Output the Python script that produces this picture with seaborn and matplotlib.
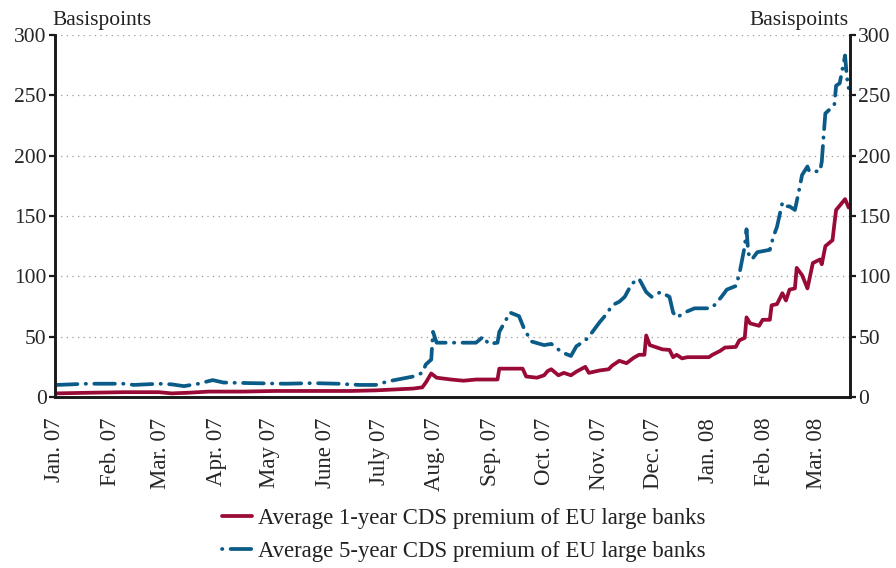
import matplotlib
matplotlib.use("Agg")
import matplotlib.pyplot as plt
from matplotlib.lines import Line2D
import seaborn as sns
import pandas as pd
import numpy as np

# ---------------- data ----------------
dates_1y = ["2007-01-02","2007-01-19","2007-02-09","2007-02-28","2007-03-07","2007-03-16",
            "2007-03-28","2007-04-16","2007-05-04","2007-05-25","2007-06-15","2007-06-29",
            "2007-07-13","2007-07-20","2007-07-25","2007-07-27","2007-07-30","2007-08-02",
            "2007-08-10","2007-08-17","2007-08-24","2007-09-05","2007-09-06","2007-09-19",
            "2007-09-21","2007-09-27","2007-10-01","2007-10-03","2007-10-05","2007-10-09",
            "2007-10-12","2007-10-16","2007-10-19","2007-10-24","2007-10-26","2007-11-01",
            "2007-11-06","2007-11-08","2007-11-12","2007-11-16","2007-11-20","2007-11-23",
            "2007-11-26","2007-11-27","2007-11-29","2007-12-03","2007-12-06","2007-12-10",
            "2007-12-12","2007-12-14","2007-12-17","2007-12-20","2008-01-01","2008-01-03",
            "2008-01-07","2008-01-10","2008-01-16","2008-01-18","2008-01-21","2008-01-22",
            "2008-01-24","2008-01-29","2008-01-31","2008-02-04","2008-02-05","2008-02-08",
            "2008-02-11","2008-02-13","2008-02-15","2008-02-18","2008-02-19","2008-02-22",
            "2008-02-25","2008-02-28","2008-03-03","2008-03-04","2008-03-06","2008-03-10",
            "2008-03-11","2008-03-12","2008-03-17","2008-03-19"]
cds_1y = [3, 3.5, 4, 4, 3, 3.5,
          4.5, 4.5, 5, 5, 5, 5.5,
          6.5, 7, 8, 12, 19.5, 16,
          14.5, 13.5, 14.5, 14.5, 23.5, 23.5,
          17, 16, 18, 21.5, 23, 18,
          20, 18, 21, 25, 20, 22,
          23, 26, 30, 28, 32.5, 35,
          35, 51, 43, 41, 39.5, 39,
          33, 35, 32, 33, 33, 35,
          38, 41, 41.5, 47, 49, 66,
          61, 59, 64, 64, 76, 77,
          86, 80, 89, 90, 107, 101,
          90, 111, 114, 110, 125, 130,
          143, 155, 164, 157]

dates_5y = ["2007-01-02","2007-01-19","2007-02-09","2007-02-14","2007-02-28","2007-03-07",
            "2007-03-14","2007-03-22","2007-03-30","2007-04-05","2007-04-20","2007-05-10",
            "2007-05-25","2007-06-08","2007-06-20","2007-06-29","2007-07-06","2007-07-13",
            "2007-07-20","2007-07-25","2007-07-27","2007-07-30","2007-07-31","2007-08-02",
            "2007-08-24","2007-08-28","2007-08-31","2007-09-05","2007-09-06","2007-09-12",
            "2007-09-17","2007-09-20","2007-09-24","2007-10-01","2007-10-05","2007-10-11",
            "2007-10-16","2007-10-19","2007-10-24","2007-10-26","2007-11-01","2007-11-05",
            "2007-11-08","2007-11-12","2007-11-15","2007-11-19","2007-11-23","2007-11-27",
            "2007-11-30","2007-12-05","2007-12-10","2007-12-12","2007-12-14","2007-12-20",
            "2007-12-24","2008-01-02","2008-01-04","2008-01-08","2008-01-11","2008-01-16",
            "2008-01-18","2008-01-21","2008-01-22","2008-01-23","2008-01-25","2008-01-28",
            "2008-02-04","2008-02-06","2008-02-08","2008-02-11","2008-02-13","2008-02-15",
            "2008-02-18","2008-02-20","2008-02-22","2008-02-25","2008-02-26","2008-03-03",
            "2008-03-04","2008-03-05","2008-03-06","2008-03-11","2008-03-12","2008-03-14",
            "2008-03-17","2008-03-18","2008-03-19"]
cds_5y = [10, 11, 11, 10, 11, 10.5,
          9, 11, 14, 12, 11.5, 11,
          11.5, 11, 10, 10, 13, 15,
          17, 20, 27, 31, 54, 45,
          45, 50, 44, 45, 54, 70,
          67, 56, 46, 43, 44, 37,
          34, 42, 47, 50, 62, 69,
          76, 79, 83, 94, 98, 87,
          83, 87, 83, 70, 66, 71,
          73.5, 73.5, 76, 83, 89, 92,
          102, 125, 139, 119, 114, 120,
          122, 133, 141, 161, 158, 158,
          155, 169, 184, 191, 187, 187,
          195, 216, 235, 242, 258, 260,
          283, 265, 256]

month_ticks = ["2007-01-01","2007-02-01","2007-03-01","2007-04-01","2007-05-01","2007-06-01",
               "2007-07-01","2007-08-01","2007-09-01","2007-10-01","2007-11-01","2007-12-01",
               "2008-01-01","2008-02-01","2008-03-01"]
month_labels = ["Jan. 07","Feb. 07","Mar. 07","Apr. 07","May 07","June 07","July 07",
                "Aug. 07","Sep. 07","Oct. 07","Nov. 07","Dec. 07","Jan. 08","Feb. 08","Mar. 08"]
y_ticks = [0, 50, 100, 150, 200, 250, 300]

label_1y = "Average 1-year CDS premium of EU large banks"
label_5y = "Average 5-year CDS premium of EU large banks"

# ---------------- style ----------------
sns.set_style("white")
plt.rcParams["font.family"] = ["Liberation Serif", "DejaVu Serif"]
plt.rcParams["text.color"] = "#222222"

RED = "#9a0a36"
BLUE = "#0b5b88"
FS = 15.5
FS_X = 16.5
FS_LEG = 16.4
LW = 2.7

df1 = pd.DataFrame({"date": pd.to_datetime(dates_1y), "value": cds_1y})
df5 = pd.DataFrame({"date": pd.to_datetime(dates_5y), "value": cds_5y})

fig = plt.figure(figsize=(8.96, 5.68), dpi=100)
ax = fig.add_axes([55/896, 1-397/568, (850-55)/896, (397-35)/568])

sns.lineplot(data=df5, x="date", y="value", ax=ax, color=BLUE, linewidth=LW,
             errorbar=None, zorder=3)
sns.lineplot(data=df1, x="date", y="value", ax=ax, color=RED, linewidth=LW,
             errorbar=None, zorder=4)
line5 = ax.lines[0]
line5.set_linestyle((0, (5.5, 2.2, 0.1, 2.2)))
line5.set_dash_capstyle("round")
line1 = ax.lines[1]
line1.set_solid_joinstyle("round")

ax.set_xlim(pd.Timestamp("2007-01-01"), pd.Timestamp("2008-03-19 18:00"))
ax.set_ylim(0, 300)
ax.set_yticks(y_ticks)
ax.set_xticks(pd.to_datetime(month_ticks))
ax.set_xticklabels(month_labels, rotation=90, fontsize=FS_X)
ax.set_xlabel("")
ax.set_ylabel("")
for v in y_ticks[1:]:
    ax.axhline(v, color="#9a9a9a", linewidth=0.9, linestyle=(0, (1, 3.5)), zorder=1)

ax2 = ax.twinx()
ax2.set_ylim(0, 300)
ax2.set_yticks(y_ticks)

for a in (ax, ax2):
    a.spines["top"].set_visible(False)
    for s in ("left", "right", "bottom"):
        a.spines[s].set_linewidth(1.9)
        a.spines[s].set_color("#1a1a1a")
    a.tick_params(axis="y", labelsize=FS, length=4, width=1.6, color="#1a1a1a", pad=2)
ax.tick_params(axis="x", length=6, width=1.6, color="#1a1a1a", pad=9, labelsize=FS_X)

# legend handles (5-year handle starts with a dot, as in the original)
h1 = Line2D([], [], color=RED, linewidth=LW)
h5 = Line2D([], [], color=BLUE, linewidth=LW, linestyle=(0, (0.1, 2.2, 5.5, 2.2)),
            dash_capstyle="round")
leg = fig.legend([h1, h5], [label_1y, label_5y], loc="center left",
                 bbox_to_anchor=(222/896, 1-535/568), frameon=False, fontsize=FS_LEG,
                 handlelength=1.3, handletextpad=0.28, labelspacing=0.5, borderpad=0,
                 borderaxespad=0)

fig.text(52/896, 1-25/568, "Basispoints", ha="left", va="baseline", fontsize=FS)
fig.text(849/896, 1-25/568, "Basispoints", ha="right", va="baseline", fontsize=FS)

fig.savefig("out.png", dpi=100)
